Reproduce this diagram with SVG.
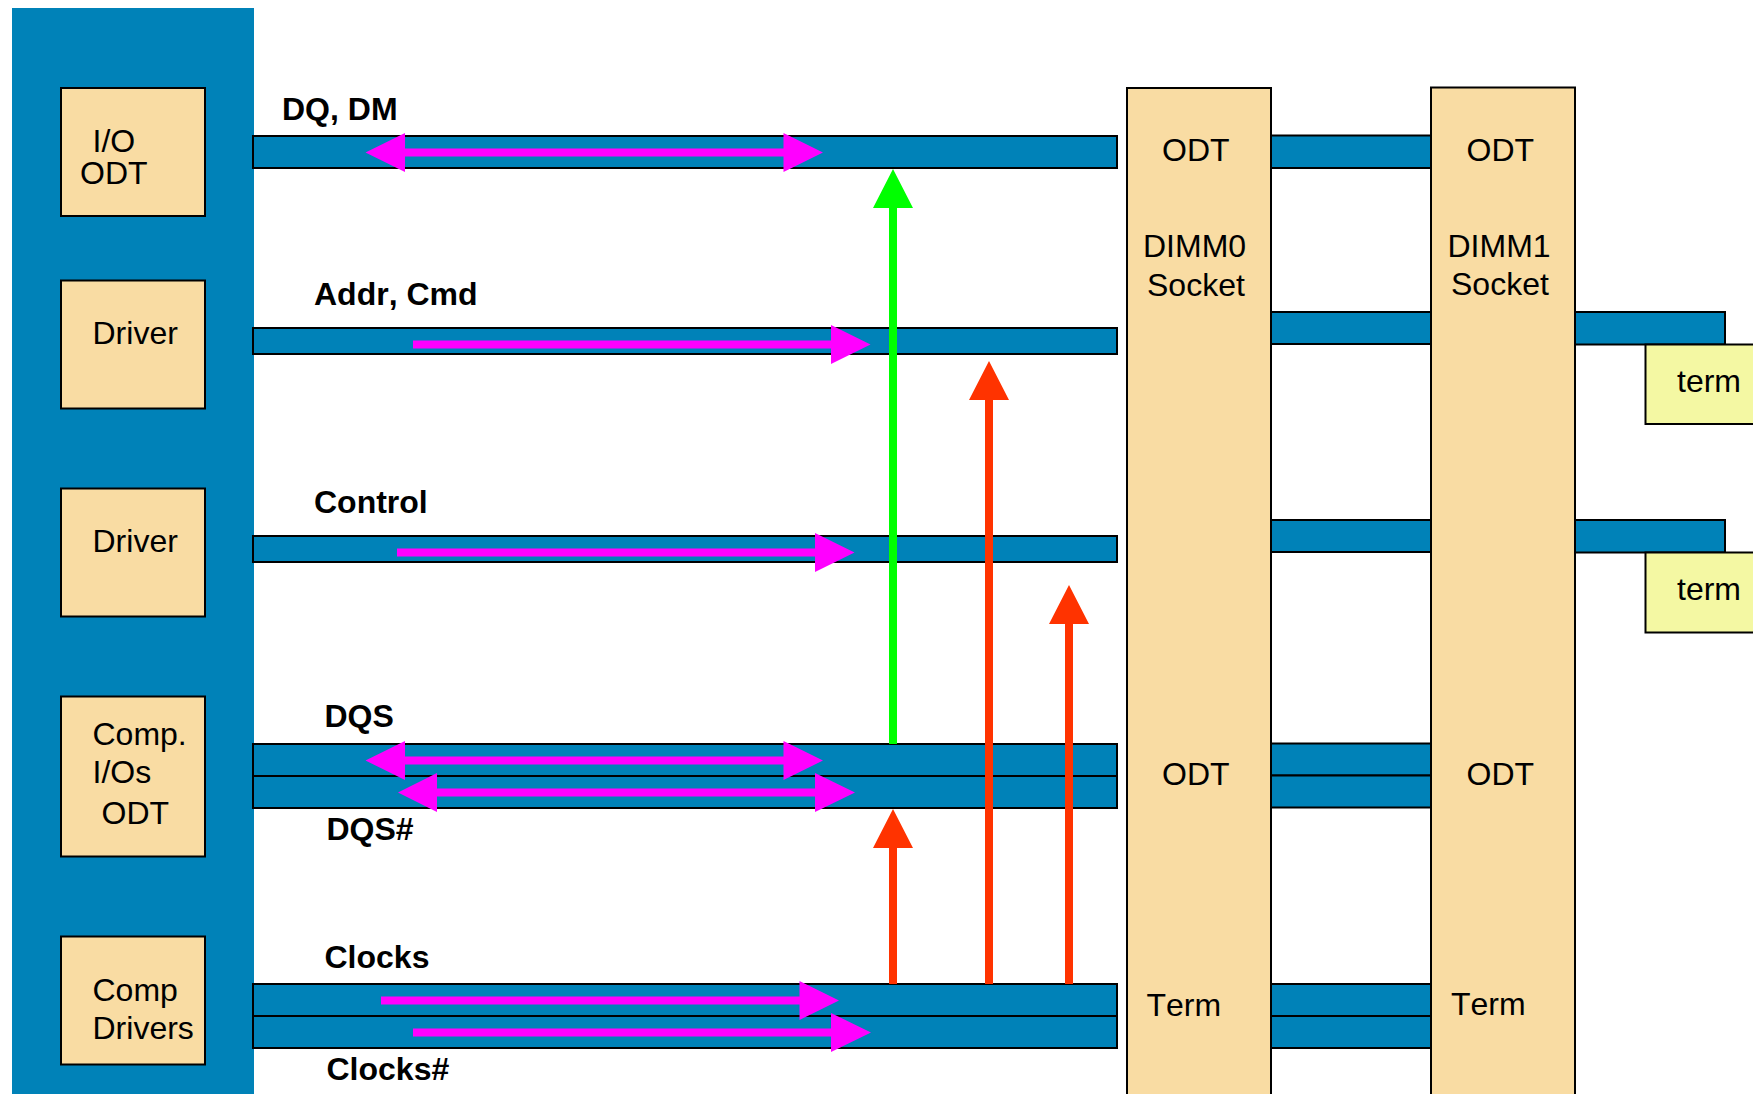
<svg xmlns="http://www.w3.org/2000/svg" width="1753" height="1094" viewBox="0 0 1753 1094">
<style>
text{font-family:"Liberation Sans",Arial,sans-serif;font-size:32px;fill:#000;font-kerning:none}
text.b{font-weight:bold}
.chip{fill:#0082b8}
.bar{fill:#0082b8;stroke:#000;stroke-width:2}
.box{fill:#f9dca3;stroke:#000;stroke-width:2}
.term{fill:#f4f8a3;stroke:#000;stroke-width:2}
.mg{fill:#ff00ff}
.rd{fill:#ff3300}
.gr{fill:#00ff00}
</style>
<rect width="1753" height="1094" fill="#fff"/>
<rect id="chip" class="chip" x="12" y="8" width="242" height="1086"/>
<g id="bus-bars">
<rect class="bar" x="253" y="136" width="864" height="32"/>
<rect class="bar" x="253" y="328" width="864" height="26"/>
<rect class="bar" x="253" y="536" width="864" height="26"/>
<rect class="bar" x="253" y="744" width="864" height="32"/>
<rect class="bar" x="253" y="776" width="864" height="32"/>
<rect class="bar" x="253" y="984" width="864" height="32"/>
<rect class="bar" x="253" y="1016" width="864" height="32"/>
<rect class="bar" x="1271" y="135.500" width="160" height="32.500"/>
<rect class="bar" x="1271" y="312" width="160" height="32"/>
<rect class="bar" x="1271" y="520" width="160" height="32"/>
<rect class="bar" x="1271" y="743.500" width="160" height="32"/>
<rect class="bar" x="1271" y="775.500" width="160" height="32"/>
<rect class="bar" x="1271" y="984" width="160" height="32"/>
<rect class="bar" x="1271" y="1016" width="160" height="32"/>
<rect class="bar" x="1575" y="312" width="150" height="32.500"/>
<rect class="bar" x="1575" y="520" width="150" height="32.500"/>
</g>
<g id="io-odt"><rect class="box" x="61" y="88" width="144" height="128"/><text x="92.500" y="152">I/O</text><text x="80" y="184">ODT</text></g>
<g id="driver-1"><rect class="box" x="61" y="280.500" width="144" height="128"/><text x="92.500" y="344">Driver</text></g>
<g id="driver-2"><rect class="box" x="61" y="488.500" width="144" height="128"/><text x="92.500" y="552">Driver</text></g>
<g id="comp-ios"><rect class="box" x="61" y="696.500" width="144" height="160"/><text x="92.500" y="745">Comp.</text><text x="92.500" y="783">I/Os</text><text x="101.500" y="824">ODT</text></g>
<g id="comp-drivers"><rect class="box" x="61" y="936.500" width="144" height="128"/><text x="92.500" y="1001">Comp</text><text x="92.500" y="1039">Drivers</text></g>
<g id="dimm0"><rect class="box" x="1127" y="88" width="144" height="1020"/><text x="1162" y="161">ODT</text><text x="1143" y="257">DIMM0</text><text x="1147" y="296">Socket</text><text x="1162" y="785">ODT</text><text x="1146.500" y="1016">Term</text></g>
<g id="dimm1"><rect class="box" x="1431" y="87.500" width="144" height="1020"/><text x="1466.500" y="161">ODT</text><text x="1447.500" y="257">DIMM1</text><text x="1451" y="295">Socket</text><text x="1466.500" y="785">ODT</text><text x="1451" y="1015">Term</text></g>
<g id="term-1"><rect class="term" x="1645.500" y="344.500" width="120" height="79.500"/><text x="1677" y="392">term</text></g>
<g id="term-2"><rect class="term" x="1645.500" y="552.500" width="120" height="80"/><text x="1677" y="600">term</text></g>
<g id="bus-labels">
<text class="b" x="282" y="120">DQ, DM</text>
<text class="b" x="314" y="305">Addr, Cmd</text>
<text class="b" x="314" y="513">Control</text>
<text class="b" x="324.500" y="727">DQS</text>
<text class="b" x="326.500" y="840">DQS#</text>
<text class="b" x="324.500" y="968">Clocks</text>
<text class="b" x="326.500" y="1080">Clocks#</text>
</g>
<g id="connectors">
<polygon class="gr" points="889,744 889,208 873,208 893,169 913,208 897,208 897,744"/>
<polygon class="rd" points="889,984 889,848 873,848 893,809 913,848 897,848 897,984"/>
<polygon class="rd" points="985,984 985,400 969,400 989,361 1009,400 993,400 993,984"/>
<polygon class="rd" points="1065,984 1065,624 1049,624 1069,585 1089,624 1073,624 1073,984"/>
<polygon class="mg" points="365.500,152.500 405,133 405,148.500 783.500,148.500 783.500,133 823,152.500 783.500,172 783.500,156.500 405,156.500 405,172"/>
<polygon class="mg" points="413,340.500 831,340.500 831,325 870.500,344.500 831,364 831,348.500 413,348.500"/>
<polygon class="mg" points="397,548.500 815,548.500 815,533 854.500,552.500 815,572 815,556.500 397,556.500"/>
<polygon class="mg" points="365.500,760.500 405,741 405,756.500 783.500,756.500 783.500,741 823,760.500 783.500,780 783.500,764.500 405,764.500 405,780"/>
<polygon class="mg" points="398,792.500 437,773 437,788.500 815,788.500 815,773 855,792.500 815,812 815,796.500 437,796.500 437,812"/>
<polygon class="mg" points="381,996.500 799.500,996.500 799.500,981 839,1000.500 799.500,1020 799.500,1004.500 381,1004.500"/>
<polygon class="mg" points="413,1028.500 831,1028.500 831,1013 871,1032.500 831,1052 831,1036.500 413,1036.500"/>
</g>
</svg>
